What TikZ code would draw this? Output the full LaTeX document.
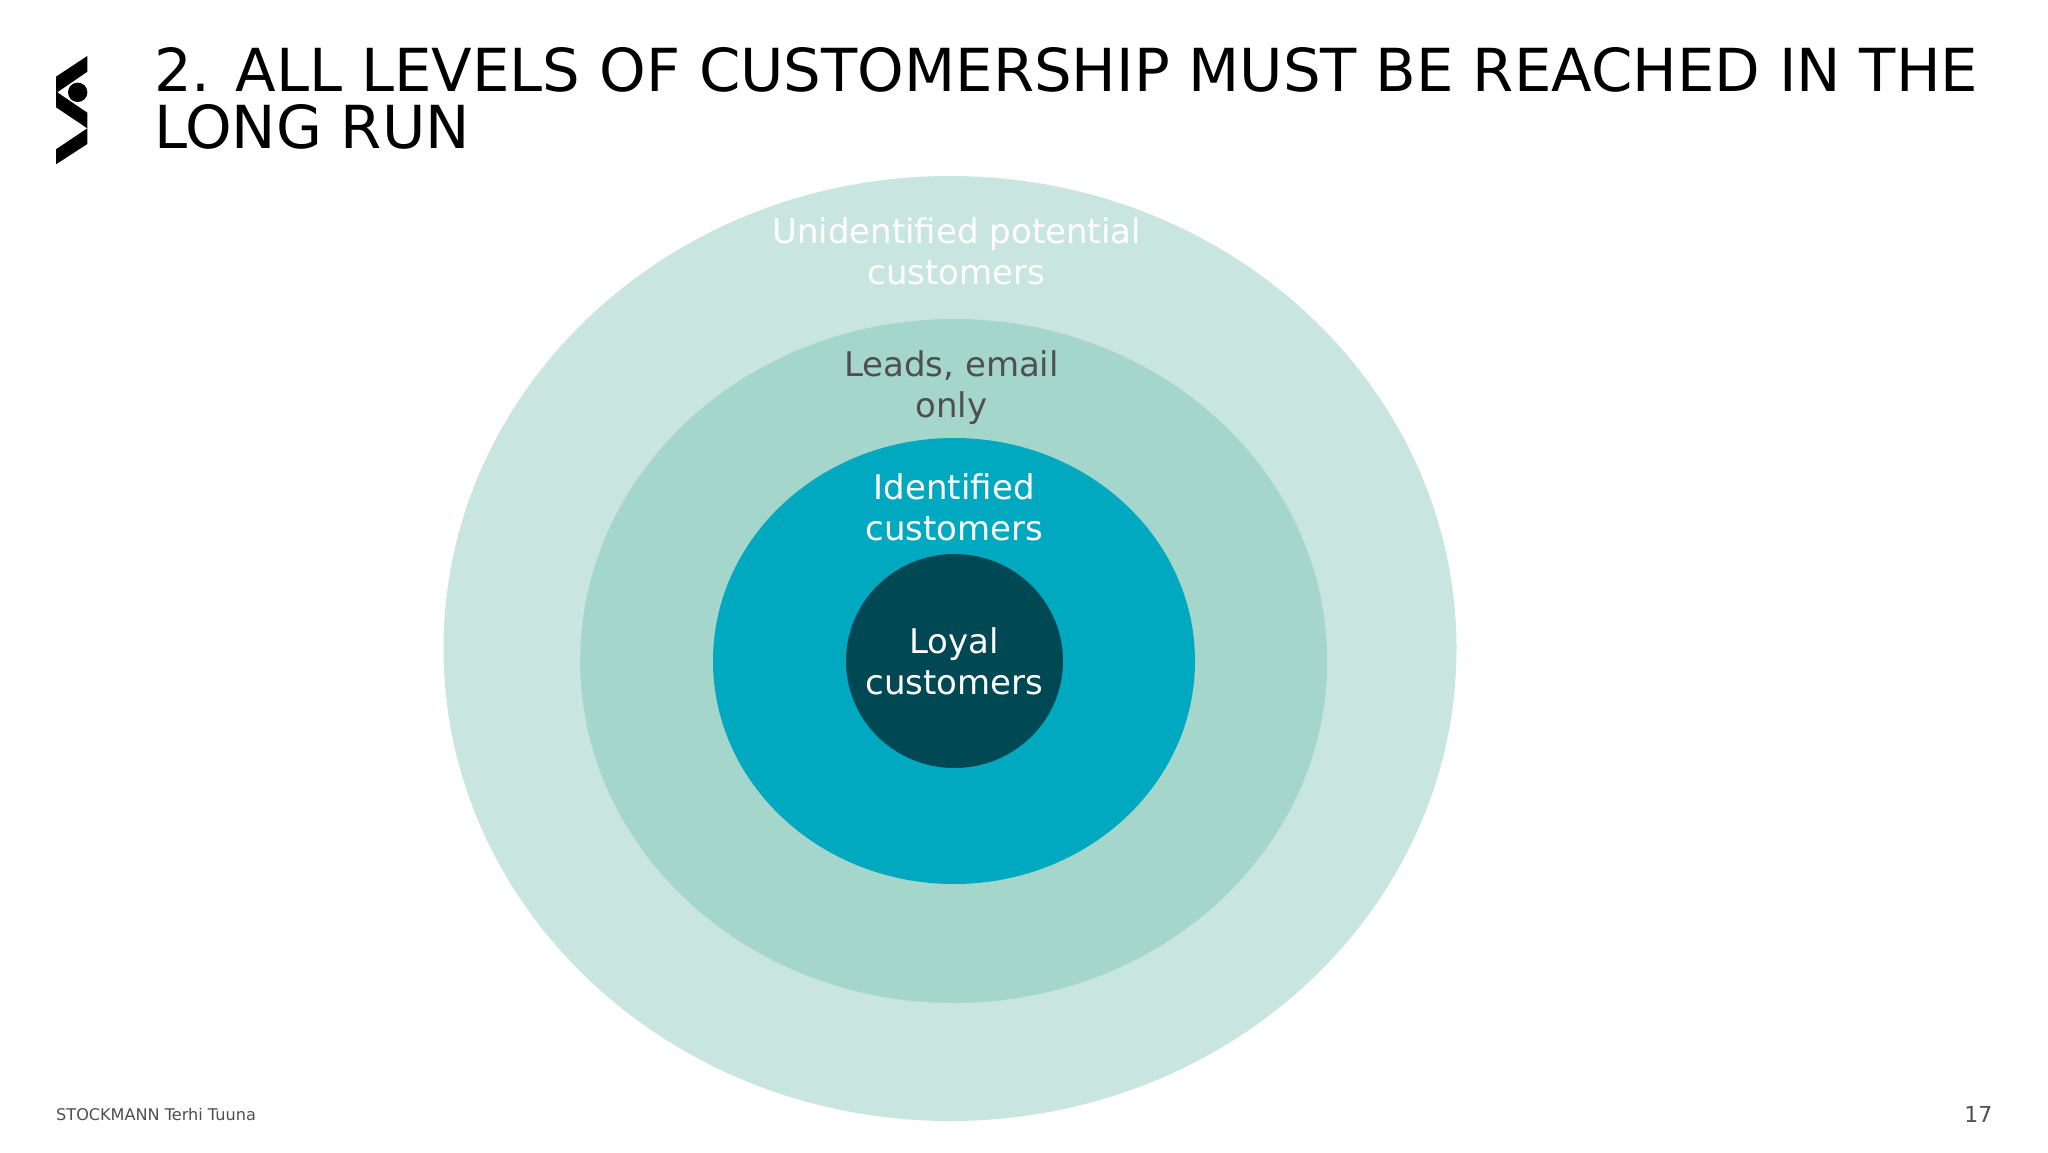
\documentclass[tikz,border=0pt]{standalone}
\usepackage{fontspec}
\setmainfont{DejaVu Sans}
\usetikzlibrary{shapes.geometric}
\definecolor{ringA}{HTML}{C9E5E0}
\definecolor{ringB}{HTML}{A5D6CB}
\definecolor{ringC}{HTML}{00A8C0}
\definecolor{ringD}{HTML}{004853}
\definecolor{labelgray}{HTML}{4F4F4F}
\begin{document}
\begin{tikzpicture}[
  x=1pt, y=-1pt,
  ring/.style = {
    shape=ellipse,
    inner sep=0pt
  },
  ringlabel/.style = {
    align=center,
    inner sep=0pt,
    font=\fontsize{34}{40.5}\selectfont
  }]
  \useasboundingbox (0,0) rectangle (2048,1152);
  \fill[white] (0,0) rectangle (2048,1152);
  % logo
  \fill[black] (87.3,56) -- (56,76.7) -- (56,107.3) -- (87.3,128.3) -- (87.3,112.7) -- (57.3,92.3) -- (87.3,71.7) -- cycle;
  \fill[black] (87.3,128.3) -- (56,149.3) -- (56,164.3) -- (87.3,144) -- cycle;
  \fill[black] (77.7,92.3) circle (9.7pt);
  % rings
  \node[ring, fill=ringA, minimum width=1013pt, minimum height=945pt] (outer) at (950,648.5) {};
  \node[ring, fill=ringB, minimum width=747pt, minimum height=684pt] (leads) at (953.7,661) {};
  \node[ring, fill=ringC, minimum width=482pt, minimum height=446pt] (identified) at (954,661) {};
  \node[ring, fill=ringD, minimum width=217pt, minimum height=214pt] (loyal) at (954.5,661) {};
  % labels
  \node[ringlabel, text=white] (outertext) at (956.5,251.5) {Unidentified potential\\customers};
  \node[ringlabel, text=labelgray] (leadstext) at (951.5,387.5) {Leads, email\\only};
  \node[ringlabel, text=white] (identifiedtext) at (954.2,507.4) {Identified\\customers};
  \node[ringlabel, text=white] (loyaltext) at (954.2,661.5) {Loyal\\customers};
  % title and footer
  \node[anchor=north west, align=left, inner sep=0pt, font=\fontsize{59.3}{57.5}\selectfont] (title) at (154,47) {2. ALL LEVELS OF CUSTOMERSHIP MUST BE REACHED IN THE\\LONG RUN};
  \node[anchor=west, inner sep=0pt, text=labelgray, font=\fontsize{16.1}{20}\selectfont] (footer) at (56,1114.5) {STOCKMANN Terhi Tuuna};
  \node[anchor=east, inner sep=0pt, text=labelgray, font=\fontsize{22}{26}\selectfont] (page) at (1992.5,1114.5) {17};
\end{tikzpicture}
\end{document}
